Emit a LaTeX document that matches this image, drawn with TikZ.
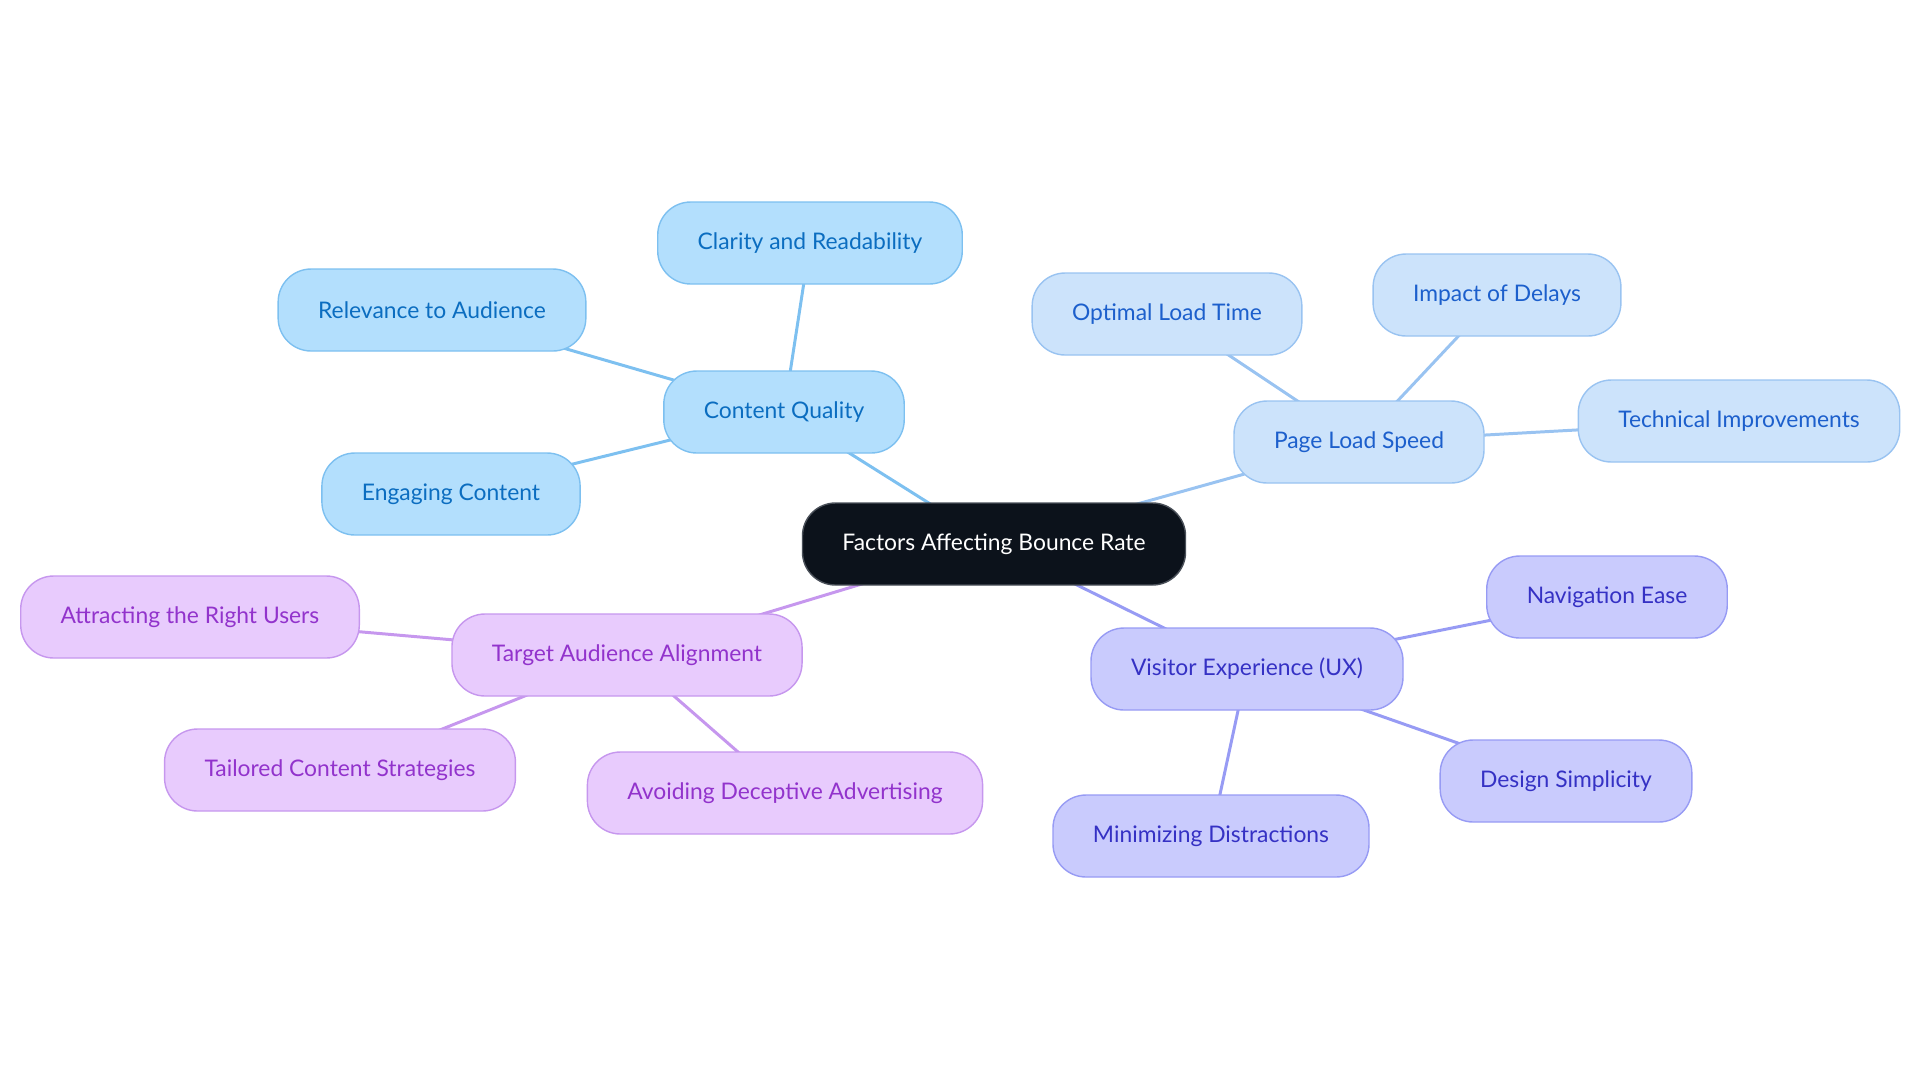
\documentclass[tikz,border=0pt]{standalone}
\usepackage{fontspec}
\setmainfont{Lato}
\usetikzlibrary{backgrounds}
\definecolor{hubF}{HTML}{0C121B}
\definecolor{hubL}{HTML}{4A5059}
\definecolor{cqF}{HTML}{B3DFFD}
\definecolor{cqL}{HTML}{7DC0F0}
\definecolor{cqT}{HTML}{0B6DC0}
\definecolor{plF}{HTML}{CCE3FB}
\definecolor{plL}{HTML}{99C3F1}
\definecolor{plT}{HTML}{1C5FCC}
\definecolor{uxF}{HTML}{C9CBFD}
\definecolor{uxL}{HTML}{979BF4}
\definecolor{uxT}{HTML}{3531C4}
\definecolor{taF}{HTML}{E8CBFD}
\definecolor{taL}{HTML}{C697EE}
\definecolor{taT}{HTML}{9233CC}
\tikzset{
  bub/.style  = {draw, rounded corners=0.66cm, minimum height=1.64cm, inner xsep=0.8cm,
                 line width=0.8pt, font=\fontsize{13}{15}\selectfont},
  hub/.style  = {bub, fill=hubF, draw=hubL, text=white},
  cq/.style   = {bub, fill=cqF, draw=cqL, text=cqT},
  pl/.style   = {bub, fill=plF, draw=plL, text=plT},
  ux/.style   = {bub, fill=uxF, draw=uxL, text=uxT},
  ta/.style   = {bub, fill=taF, draw=taL, text=taT},
  wire/.style = {line width=1.7pt},
}
\begin{document}
\begin{tikzpicture}[x=0.02cm, y=-0.02cm]
  \useasboundingbox (0,0) rectangle (1920,1083);

  % ===== centre =========================================================
  \node[hub] (root) at ( 994, 544) {Factors Affecting Bounce Rate};

  % ===== content quality ================================================
  \node[cq] (cont)    at ( 784, 412) {Content Quality};
  \node[cq] (clarity) at ( 810, 243) {Clarity and Readability};
  \node[cq] (relev)   at ( 432, 310) {Relevance to Audience};
  \node[cq] (engage)  at ( 451, 494) {Engaging Content};

  % ===== page load speed ================================================
  \node[pl] (speed)   at (1359, 442) {Page Load Speed};
  \node[pl] (optimal) at (1167, 314) {Optimal Load Time};
  \node[pl] (delays)  at (1497, 295) {Impact of Delays};
  \node[pl] (tech)    at (1739, 421) {Technical Improvements};

  % ===== visitor experience =============================================
  \node[ux] (visit)   at (1247, 669) {Visitor Experience (UX)};
  \node[ux] (nav)     at (1607, 597) {Navigation Ease};
  \node[ux] (design)  at (1566, 781) {Design Simplicity};
  \node[ux] (distr)   at (1211, 836) {Minimizing Distractions};

  % ===== target audience ================================================
  \node[ta] (target)  at ( 627, 655) {Target Audience Alignment};
  \node[ta] (attract) at ( 190, 617) {Attracting the Right Users};
  \node[ta] (tailor)  at ( 340, 770) {Tailored Content Strategies};
  \node[ta] (avoid)   at ( 785, 793) {Avoiding Deceptive Advertising};

  % ===== links ==========================================================
  \begin{scope}[on background layer]
    \draw[wire, cqL] (root.center) -- (cont.center);
    \draw[wire, cqL] (cont.center) -- (clarity.center);
    \draw[wire, cqL] (cont.center) -- (relev.center);
    \draw[wire, cqL] (cont.center) -- (engage.center);

    \draw[wire, plL] (root.center)  -- (speed.center);
    \draw[wire, plL] (speed.center) -- (optimal.center);
    \draw[wire, plL] (speed.center) -- (delays.center);
    \draw[wire, plL] (speed.center) -- (tech.center);

    \draw[wire, uxL] (root.center)  -- (visit.center);
    \draw[wire, uxL] (visit.center) -- (nav.center);
    \draw[wire, uxL] (visit.center) -- (design.center);
    \draw[wire, uxL] (visit.center) -- (distr.center);

    \draw[wire, taL] (root.center)   -- (target.center);
    \draw[wire, taL] (target.center) -- (attract.center);
    \draw[wire, taL] (target.center) -- (tailor.center);
    \draw[wire, taL] (target.center) -- (avoid.center);
  \end{scope}

\end{tikzpicture}
\end{document}
